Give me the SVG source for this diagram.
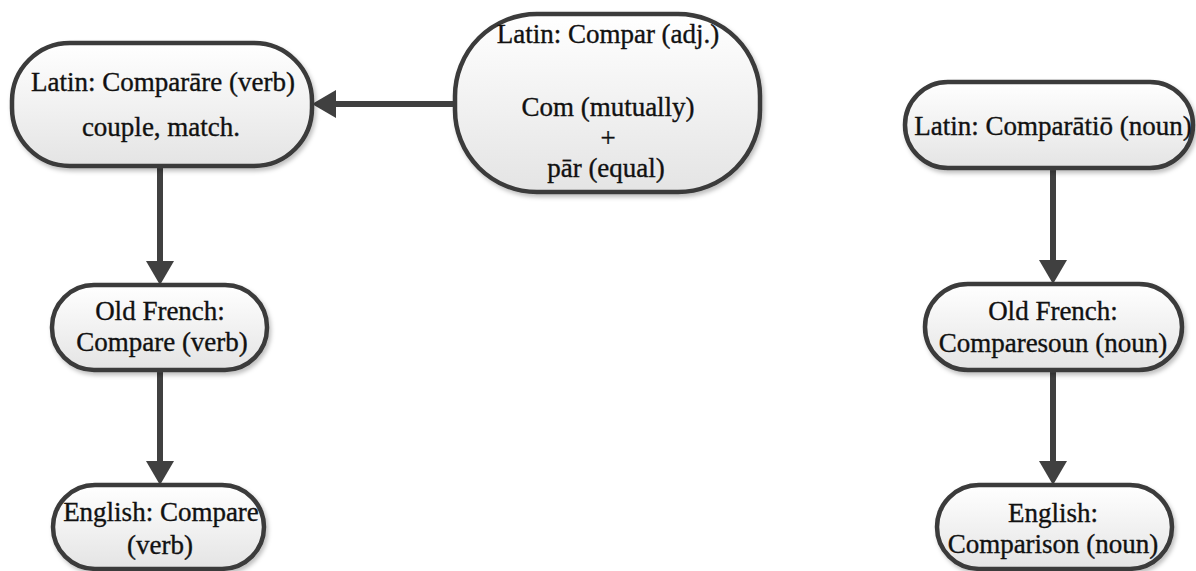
<svg xmlns="http://www.w3.org/2000/svg" width="1196" height="571" viewBox="0 0 1196 571">
  <defs>
    <linearGradient id="fillGrad" x1="0" y1="0" x2="0" y2="1">
      <stop offset="0" stop-color="#ffffff"/>
      <stop offset="1" stop-color="#e4e4e4"/>
    </linearGradient>
    <filter id="shadow" x="-10%" y="-10%" width="120%" height="130%">
      <feDropShadow dx="2" dy="3" stdDeviation="2" flood-color="#000" flood-opacity="0.25"/>
    </filter>
    <marker id="arrow" markerUnits="userSpaceOnUse" markerWidth="26" markerHeight="28" refX="0" refY="14" orient="auto" viewBox="0 0 26 28">
      <path d="M0,0 L24,14 L0,28 Z" fill="#404040"/>
    </marker>
    <style>
      .node rect { fill: url(#fillGrad); stroke: #3a3a3a; stroke-width: 4.5; filter: url(#shadow); }
      .node text { font-family: "Liberation Serif", "Times New Roman", serif; font-size: 27px; fill: #111; stroke: #111; stroke-width: 0.35; text-anchor: middle; }
      .conn line { stroke: #404040; stroke-width: 6; marker-end: url(#arrow); }
    </style>
  </defs>
  <rect width="1196" height="571" fill="#ffffff"/>

  <g id="connectors" class="conn">
    <line x1="455" y1="104" x2="336" y2="104"/>
    <line x1="160" y1="166" x2="160" y2="261"/>
    <line x1="160" y1="370" x2="160" y2="461"/>
    <line x1="1053" y1="168" x2="1053" y2="260"/>
    <line x1="1053" y1="370" x2="1053" y2="461"/>
  </g>

  <g id="node-latin-comparare" class="node">
    <rect x="12" y="43" width="300" height="123" rx="58" ry="58"/>
    <text x="163" y="91">Latin: Comparāre (verb)</text>
    <text x="161" y="136">couple, match.</text>
  </g>

  <g id="node-latin-compar" class="node">
    <rect x="455" y="14" width="305" height="178" rx="82" ry="82"/>
    <text x="608" y="43">Latin: Compar (adj.)</text>
    <text x="608" y="116">Com (mutually)</text>
    <text x="608" y="147">+</text>
    <text x="606" y="177">pār (equal)</text>
  </g>

  <g id="node-latin-comparatio" class="node">
    <rect x="905" y="82" width="288" height="86" rx="43" ry="43"/>
    <text x="1053" y="135">Latin: Comparātiō (noun)</text>
  </g>

  <g id="node-oldfrench-compare" class="node">
    <rect x="52" y="285" width="215" height="85" rx="42" ry="42"/>
    <text x="160" y="320">Old French:</text>
    <text x="162" y="351">Compare (verb)</text>
  </g>

  <g id="node-english-compare" class="node">
    <rect x="53" y="485" width="211" height="84" rx="42" ry="42"/>
    <text x="161" y="521">English: Compare</text>
    <text x="160" y="554">(verb)</text>
  </g>

  <g id="node-oldfrench-comparesoun" class="node">
    <rect x="925" y="284" width="257" height="86" rx="43" ry="43"/>
    <text x="1053" y="320">Old French:</text>
    <text x="1053" y="352">Comparesoun (noun)</text>
  </g>

  <g id="node-english-comparison" class="node">
    <rect x="937" y="485" width="235" height="84" rx="42" ry="42"/>
    <text x="1053" y="522">English:</text>
    <text x="1053" y="553">Comparison (noun)</text>
  </g>
</svg>
